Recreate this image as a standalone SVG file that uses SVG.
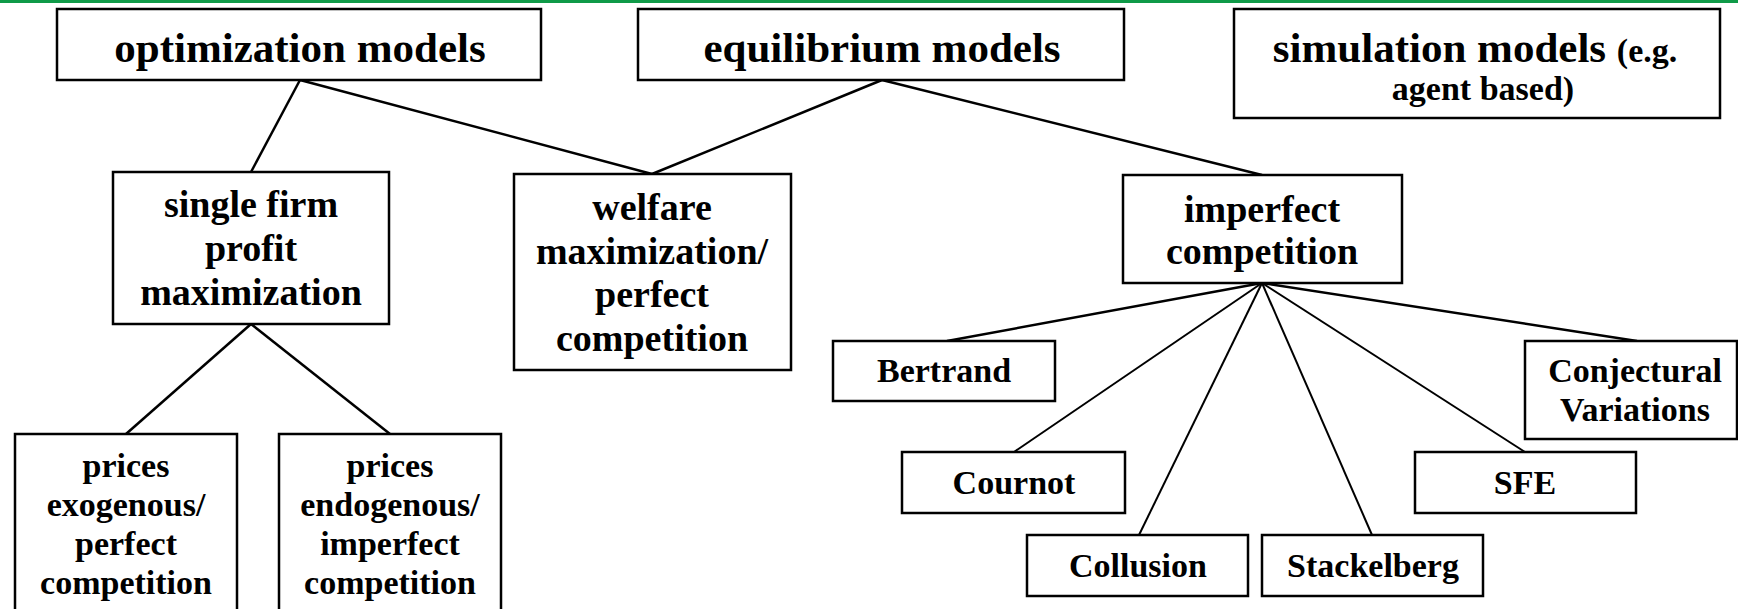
<svg xmlns="http://www.w3.org/2000/svg" width="1738" height="609" viewBox="0 0 1738 609">
<style>
.box{fill:#fff;stroke:#000;stroke-width:2.5}
.t{font-family:"Liberation Serif","Times New Roman",serif;font-weight:bold;fill:#000;text-anchor:middle}
.big{font-size:43px}
.mid{font-size:38px}
.sm{font-size:34px}
.con line{stroke:#000;stroke-width:2.5;fill:none}
.con .fan{stroke-width:2}
</style>
<rect x="0" y="0" width="1738" height="609" fill="#fff"/>
<rect x="0" y="0" width="1738" height="3" fill="#0f9a48"/>
<g class="con" id="connectors">
<line x1="300" y1="80" x2="251" y2="172"/>
<line x1="300" y1="80" x2="652" y2="174"/>
<line x1="882" y1="80" x2="652" y2="174"/>
<line x1="882" y1="80" x2="1262" y2="175"/>
<line x1="251" y1="324" x2="126" y2="434"/>
<line x1="251" y1="324" x2="390" y2="434"/>
<line x1="1262" y1="283" x2="947" y2="341"/>
<line class="fan" x1="1262" y1="283" x2="1014" y2="452"/>
<line class="fan" x1="1262" y1="283" x2="1139" y2="535"/>
<line class="fan" x1="1262" y1="283" x2="1372" y2="535"/>
<line class="fan" x1="1262" y1="283" x2="1525" y2="452"/>
<line x1="1262" y1="283" x2="1637" y2="341"/>
</g>
<g id="optimization">
<rect class="box" x="57" y="9" width="484" height="71"/>
<text class="t big" x="300" y="62">optimization models</text>
</g>
<g id="equilibrium">
<rect class="box" x="638" y="9" width="486" height="71"/>
<text class="t big" x="882" y="62">equilibrium models</text>
</g>
<g id="simulation">
<rect class="box" x="1234" y="9" width="486" height="109"/>
<text class="t big" x="1475" y="62">simulation models <tspan class="sm">(e.g.</tspan></text>
<text class="t sm" x="1483" y="100">agent based)</text>
</g>
<g id="singlefirm">
<rect class="box" x="113" y="172" width="276" height="152"/>
<text class="t mid" x="251" y="217">single firm</text>
<text class="t mid" x="251" y="261">profit</text>
<text class="t mid" x="251" y="305">maximization</text>
</g>
<g id="welfare">
<rect class="box" x="514" y="174" width="277" height="196"/>
<text class="t mid" x="652" y="220">welfare</text>
<text class="t mid" x="652" y="264">maximization/</text>
<text class="t mid" x="652" y="307">perfect</text>
<text class="t mid" x="652" y="351">competition</text>
</g>
<g id="imperfect">
<rect class="box" x="1123" y="175" width="279" height="108"/>
<text class="t mid" x="1262" y="222">imperfect</text>
<text class="t mid" x="1262" y="264">competition</text>
</g>
<g id="bertrand">
<rect class="box" x="833" y="341" width="222" height="60"/>
<text class="t sm" x="944" y="382">Bertrand</text>
</g>
<g id="conjectural">
<rect class="box" x="1525" y="341" width="212" height="98"/>
<text class="t sm" x="1635" y="382">Conjectural</text>
<text class="t sm" x="1635" y="421">Variations</text>
</g>
<g id="cournot">
<rect class="box" x="902" y="452" width="223" height="61"/>
<text class="t sm" x="1014" y="494">Cournot</text>
</g>
<g id="sfe">
<rect class="box" x="1415" y="452" width="221" height="61"/>
<text class="t sm" x="1525" y="494">SFE</text>
</g>
<g id="collusion">
<rect class="box" x="1027" y="535" width="221" height="61"/>
<text class="t sm" x="1138" y="577">Collusion</text>
</g>
<g id="stackelberg">
<rect class="box" x="1262" y="535" width="221" height="61"/>
<text class="t sm" x="1373" y="577">Stackelberg</text>
</g>
<g id="exogenous">
<rect class="box" x="15" y="434" width="222" height="185"/>
<text class="t sm" x="126" y="477">prices</text>
<text class="t sm" x="126" y="516">exogenous/</text>
<text class="t sm" x="126" y="555">perfect</text>
<text class="t sm" x="126" y="594">competition</text>
</g>
<g id="endogenous">
<rect class="box" x="279" y="434" width="222" height="185"/>
<text class="t sm" x="390" y="477">prices</text>
<text class="t sm" x="390" y="516">endogenous/</text>
<text class="t sm" x="390" y="555">imperfect</text>
<text class="t sm" x="390" y="594">competition</text>
</g>
</svg>
